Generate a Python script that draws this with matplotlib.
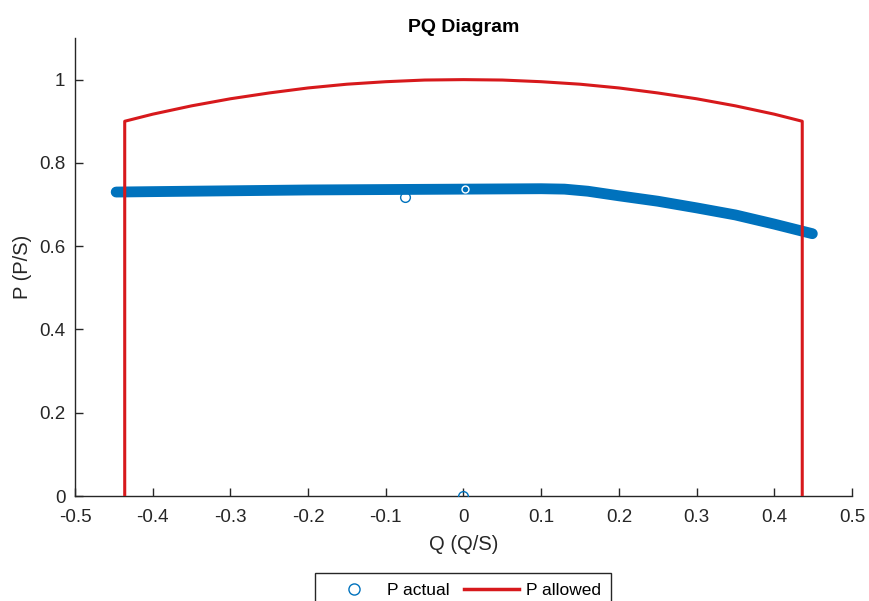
import matplotlib.pyplot as plt
from matplotlib.lines import Line2D

plt.rcParams['font.family'] = ['Liberation Sans', 'DejaVu Sans']

# --- measured operating points (band of P actual) ---
q_actual = [-0.447, -0.4, -0.3, -0.2, -0.1, 0.0, 0.1, 0.13, 0.16, 0.2, 0.25, 0.3, 0.35, 0.4, 0.449]
p_actual = [0.730, 0.731, 0.733, 0.735, 0.736, 0.737, 0.738, 0.737, 0.732, 0.721, 0.708, 0.692, 0.675, 0.653, 0.630]

# stray samples
q_stray = [-0.075, 0.0]
p_stray = [0.718, 0.0]

# --- allowed envelope ---
q_allowed = [-0.436, -0.436, -0.4, -0.35, -0.3, -0.25, -0.2, -0.15, -0.1, -0.05, 0.0,
             0.05, 0.1, 0.15, 0.2, 0.25, 0.3, 0.35, 0.4, 0.436, 0.436]
p_allowed = [0.0, 0.900, 0.917, 0.937, 0.954, 0.968, 0.980, 0.989, 0.995, 0.999, 1.0,
             0.999, 0.995, 0.989, 0.980, 0.968, 0.954, 0.937, 0.917, 0.900, 0.0]

x_ticks = [-0.5, -0.4, -0.3, -0.2, -0.1, 0, 0.1, 0.2, 0.3, 0.4, 0.5]
x_ticklabels = ['-0.5', '-0.4', '-0.3', '-0.2', '-0.1', '0', '0.1', '0.2', '0.3', '0.4', '0.5']
y_ticks = [0, 0.2, 0.4, 0.6, 0.8, 1]
y_ticklabels = ['0', '0.2', '0.4', '0.6', '0.8', '1']

blue = '#0072BD'
red = '#D7191C'
axcol = '#262626'

fig = plt.figure(figsize=(8.69, 6.01), dpi=100)
ax = fig.add_axes([0.0863, 0.1747, 0.8941, 0.7621])

ax.plot(q_actual, p_actual, color=blue, lw=7.8, solid_capstyle='round', zorder=2)
ax.plot(q_stray, p_stray, 'o', mfc='none', mec=blue, ms=7, mew=1.0, zorder=3)
ax.plot([0.002], [0.737], 'o', mfc='none', mec='white', ms=5, mew=1.0, zorder=4)
ax.plot(q_allowed, p_allowed, color=red, lw=2.2, zorder=5)

ax.set_xlim(-0.5, 0.5)
ax.set_ylim(0, 1.1)
ax.set_xticks(x_ticks)
ax.set_xticklabels(x_ticklabels)
ax.set_yticks(y_ticks)
ax.set_yticklabels(y_ticklabels)

for s in ['top', 'right']:
    ax.spines[s].set_visible(False)
for s in ['left', 'bottom']:
    ax.spines[s].set_color(axcol)
    ax.spines[s].set_linewidth(1.0)
ax.tick_params(direction='in', length=6, width=1.0, colors=axcol, labelsize=13.5)
ax.tick_params(axis='x', pad=9)
ax.tick_params(axis='y', pad=7)

ax.set_xlabel('Q (Q/S)', fontsize=14.5, color=axcol, labelpad=7)
ax.set_ylabel('P (P/S)', fontsize=14.5, color=axcol, labelpad=5)
ax.set_title('PQ Diagram', fontsize=14, fontweight='bold', color='black', pad=4)

handles = [Line2D([], [], marker='o', ls='none', mfc='none', mec=blue, ms=8, mew=1.0),
           Line2D([], [], color=red, lw=2.5)]
fig.legend(handles, ['P actual', 'P allowed'], loc='upper center', ncol=2,
           bbox_to_anchor=(0.533, 0.047), fontsize=12.5, frameon=True, fancybox=False,
           edgecolor=axcol, framealpha=1, handlelength=3.2, columnspacing=0.8,
           handletextpad=0.35, borderpad=0.6, borderaxespad=0)

fig.savefig('out.png', dpi=100)
